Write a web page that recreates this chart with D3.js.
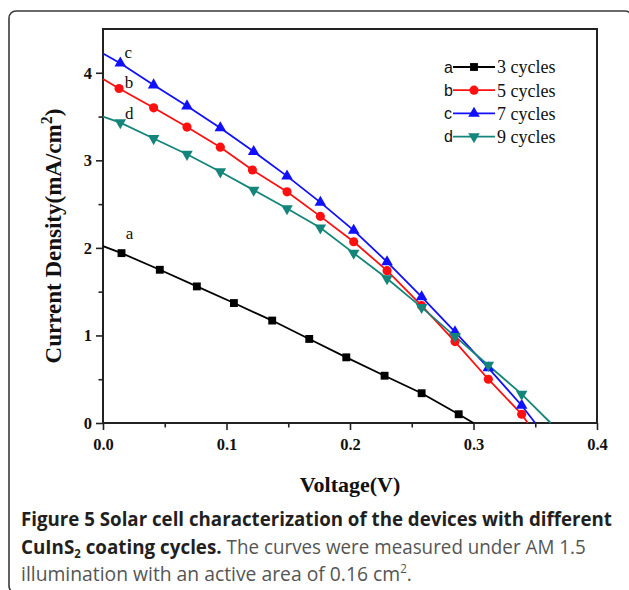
<!DOCTYPE html>
<html>
<head>
<meta charset="utf-8">
<script src="https://cdn.jsdelivr.net/npm/d3@7"></script>
<style>
  html, body { margin: 0; padding: 0; background: #fff; }
  svg { display: block; }
</style>
</head>
<body>
<svg id="chart"></svg>
<script>
var width = 629
var height = 590

// series data (voltage V, current density mA/cm2)
var voltA = [0, 0.015, 0.046, 0.076, 0.106, 0.137, 0.167, 0.197, 0.228, 0.258, 0.288, 0.300]
var currA = [2.02, 1.94, 1.75, 1.56, 1.37, 1.17, 0.96, 0.75, 0.54, 0.34, 0.10, 0]

var voltB = [0, 0.013, 0.041, 0.068, 0.095, 0.121, 0.149, 0.176, 0.203, 0.230, 0.258, 0.285, 0.312, 0.339, 0.344]
var currB = [3.93, 3.82, 3.60, 3.38, 3.15, 2.89, 2.64, 2.36, 2.07, 1.74, 1.34, 0.93, 0.50, 0.10, 0]

var voltC = [0, 0.014, 0.041, 0.068, 0.095, 0.122, 0.149, 0.176, 0.203, 0.230, 0.258, 0.285, 0.312, 0.339, 0.350]
var currC = [4.22, 4.11, 3.86, 3.62, 3.37, 3.10, 2.82, 2.52, 2.20, 1.84, 1.44, 1.04, 0.63, 0.20, 0]

var voltD = [0, 0.014, 0.041, 0.068, 0.095, 0.122, 0.149, 0.176, 0.203, 0.230, 0.258, 0.285, 0.312, 0.339, 0.3625]
var currD = [3.50, 3.43, 3.25, 3.07, 2.87, 2.66, 2.45, 2.23, 1.94, 1.65, 1.32, 0.99, 0.66, 0.33, 0]

var seriesKeys = ['a', 'b', 'c', 'd']
var seriesNames = ['3 cycles', '5 cycles', '7 cycles', '9 cycles']
var seriesColors = ['#000000', '#ff1010', '#1010ff', '#14857a']

var xTicks = [0, 0.1, 0.2, 0.3, 0.4]
var xMinorTicks = [0.05, 0.15, 0.25, 0.35]
var yTicks = [0, 1, 2, 3, 4]
var yMinorTicks = [0.5, 1.5, 2.5, 3.5]

// where the little a/b/c/d tags sit relative to the first marker
var tagOffsets = [[8, -20], [10, -6], [8, -11], [9, -10]]

var series = [
	{key: 'a', v: voltA, j: currA, symbol: d3.symbolSquare, size: 62, rot: 0},
	{key: 'b', v: voltB, j: currB, symbol: d3.symbolCircle, size: 66, rot: 0},
	{key: 'c', v: voltC, j: currC, symbol: d3.symbolTriangle, size: 58, rot: 0},
	{key: 'd', v: voltD, j: currD, symbol: d3.symbolTriangle, size: 58, rot: 180}
]
series.forEach(function(s, i) {
	s.name = seriesNames[i]
	s.color = seriesColors[i]
	s.points = s.v.map(function(v, k) {return {v: v, j: s.j[k]}})
})

var svg = d3.select('#chart').attr('width', width).attr('height', height)

// outer figure box
svg.append('rect')
	.attr('x', 9).attr('y', 11)
	.attr('width', 623).attr('height', 582)
	.attr('rx', 7)
	.attr('fill', 'none')
	.attr('stroke', '#3a3a3a')
	.attr('stroke-width', 1.6)

var plot = {left: 103, right: 597, top: 29, bottom: 423}

var x = d3.scaleLinear().domain([0, 0.4]).range([plot.left, plot.right])
var y = d3.scaleLinear().domain([0, 4.5]).range([plot.bottom, plot.top])

var serif = '"Liberation Serif", "Times New Roman", serif'
var sans = '"Liberation Sans", Arial, sans-serif'

// axes
var xAxis = svg.append('g')
	.attr('transform', 'translate(0,' + plot.bottom + ')')
	.call(d3.axisBottom(x).tickValues(xTicks).tickSize(7).tickPadding(5).tickFormat(d3.format('.1f')))
var xMinor = svg.append('g')
	.attr('transform', 'translate(0,' + plot.bottom + ')')
	.call(d3.axisBottom(x).tickValues(xMinorTicks).tickSize(4.5).tickFormat(''))
var yAxis = svg.append('g')
	.attr('transform', 'translate(' + plot.left + ',0)')
	.call(d3.axisLeft(y).tickValues(yTicks).tickSize(7).tickPadding(4).tickFormat(d3.format('d')))
var yMinor = svg.append('g')
	.attr('transform', 'translate(' + plot.left + ',0)')
	.call(d3.axisLeft(y).tickValues(yMinorTicks).tickSize(4.5).tickFormat(''))

;[xAxis, xMinor, yAxis, yMinor].forEach(function(g) {
	g.select('.domain').remove()
	g.selectAll('.tick line').attr('stroke', '#222').attr('stroke-width', 1.6)
	g.selectAll('.tick text')
		.attr('font-family', serif)
		.attr('font-weight', 'bold')
		.attr('font-size', 16.5)
		.attr('fill', '#111')
})
xAxis.selectAll('.tick text').attr('dy', '0.9em')

// frame
svg.append('rect')
	.attr('x', plot.left).attr('y', plot.top)
	.attr('width', plot.right - plot.left)
	.attr('height', plot.bottom - plot.top)
	.attr('fill', 'none')
	.attr('stroke', '#222')
	.attr('stroke-width', 2)

// curves
var line = d3.line()
	.x(function(d) {return x(d.v)})
	.y(function(d) {return y(d.j)})

var curveGroup = svg.append('g')
series.forEach(function(s) {
	curveGroup.append('path')
		.attr('d', line(s.points))
		.attr('fill', 'none')
		.attr('stroke', s.color)
		.attr('stroke-width', 1.8)
})
series.forEach(function(s, i) {
	// endpoints are where the curve meets the axes, no marker there
	var marks = s.points.slice(1, s.points.length - 1)
	curveGroup.selectAll('.m' + s.key)
		.data(marks)
		.enter().append('path')
		.attr('d', d3.symbol().type(s.symbol).size(s.size))
		.attr('transform', function(d) {
			return 'translate(' + x(d.v) + ',' + y(d.j) + ') rotate(' + s.rot + ')'
		})
		.attr('fill', s.color)

	var first = s.points[1]
	svg.append('text')
		.attr('x', x(first.v) + tagOffsets[i][0])
		.attr('y', y(first.j) + tagOffsets[i][1])
		.attr('dy', '0.35em')
		.attr('text-anchor', 'middle')
		.attr('font-family', serif)
		.attr('font-size', 17)
		.attr('fill', '#111')
		.text(s.key)
})

// legend
var legend = svg.append('g').attr('transform', 'translate(444,67)')
series.forEach(function(s, i) {
	var row = legend.append('g').attr('transform', 'translate(0,' + (i * 23.2) + ')')
	row.append('text')
		.attr('x', 0).attr('y', 0).attr('dy', '0.35em')
		.attr('font-family', sans)
		.attr('font-size', 16)
		.attr('fill', '#111')
		.text(s.key)
	row.append('line')
		.attr('x1', 9).attr('x2', 51)
		.attr('stroke', s.color)
		.attr('stroke-width', 1.8)
	row.append('path')
		.attr('d', d3.symbol().type(s.symbol).size(s.size))
		.attr('transform', 'translate(30,0) rotate(' + s.rot + ')')
		.attr('fill', s.color)
	row.append('text')
		.attr('x', 53).attr('y', 0).attr('dy', '0.35em')
		.attr('font-family', serif)
		.attr('font-size', 18)
		.attr('fill', '#111')
		.text(s.name)
})

// axis titles
svg.append('text')
	.attr('x', (plot.left + plot.right) / 2)
	.attr('y', 492)
	.attr('text-anchor', 'middle')
	.attr('font-family', serif)
	.attr('font-weight', 'bold')
	.attr('font-size', 22)
	.attr('fill', '#111')
	.text('Voltage(V)')

var yTitle = svg.append('text')
	.attr('transform', 'translate(61,236) rotate(-90)')
	.attr('text-anchor', 'middle')
	.attr('font-family', serif)
	.attr('font-weight', 'bold')
	.attr('font-size', 23)
	.attr('fill', '#111')
yTitle.append('tspan').text('Current Density(mA/cm')
yTitle.append('tspan').attr('dy', -9).attr('font-size', 16).text('2')
yTitle.append('tspan').attr('dy', 9).text(')')

// caption
var capFont = '"Open Sans", "Noto Sans", sans-serif'
var capLines = [
	{y: 526, right: 612, parts: [{t: 'Figure 5 Solar cell characterization of the devices with different', b: true}]},
	{y: 554, right: 586, parts: [{t: 'CuInS', b: true}, {t: '2', b: true, sub: true}, {t: ' coating cycles.', b: true}, {t: ' The curves were measured under AM 1.5', b: false}]},
	{y: 581, right: 412, parts: [{t: 'illumination with an active area of 0.16 cm', b: false}, {t: '2', b: false, sup: true}, {t: '.', b: false}]}
]
capLines.forEach(function(ln) {
	var g = svg.append('g')
	var t = g.append('text')
		.attr('x', 0).attr('y', 0)
		.attr('font-family', capFont)
		.attr('font-size', 20)
	ln.parts.forEach(function(p, k) {
		var sp = t.append('tspan')
			.attr('font-weight', p.b ? 'bold' : 'normal')
			.attr('fill', p.b ? '#231f20' : '#555')
			.text(p.t)
		if (p.sub) sp.attr('font-size', 12).attr('dy', 4)
		if (p.sup) sp.attr('font-size', 12).attr('dy', -8)
		var prev = ln.parts[k - 1]
		if (prev && prev.sub) sp.attr('dy', -4)
		if (prev && prev.sup) sp.attr('dy', 8)
	})
	var w = t.node().getComputedTextLength()
	var sx = (ln.right - 21) / w
	g.attr('transform', 'translate(21,' + ln.y + ') scale(' + sx + ',1)')
})
</script>
</body>
</html>
